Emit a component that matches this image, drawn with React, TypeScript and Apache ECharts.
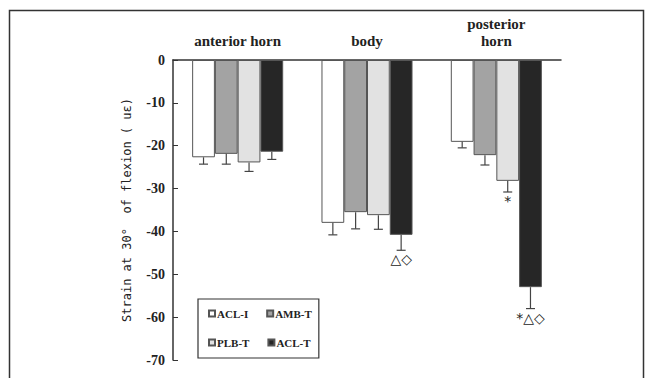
import React, { useEffect, useRef } from "react";
import * as echarts from "echarts";

const categories = ["anterior horn", "body", "posterior\nhorn"];
const seriesNames = ["ACL-I", "AMB-T", "PLB-T", "ACL-T"];
const acli = [-22.7, -38.0, -19.1];
const ambt = [-21.9, -35.5, -22.2];
const plbt = [-23.9, -36.2, -28.2];
const aclt = [-21.4, -40.8, -53.0];
const acliErr = [1.6, 2.8, 1.4];
const ambtErr = [2.4, 3.9, 2.3];
const plbtErr = [2.1, 3.3, 2.6];
const acltErr = [1.8, 3.6, 5.0];
const acliMarks = ["", "", ""];
const ambtMarks = ["", "", ""];
const plbtMarks = ["", "", "*"];
const acltMarks = ["", "△◇", "*△◇"];
const yTicks = [0, -10, -20, -30, -40, -50, -60, -70];

const fills = ["#ffffff", "#a3a3a3", "#e2e2e2", "#262626"];
const CAT_GAP = 0.296;

export default function App() {
  const ref = useRef<HTMLDivElement>(null);
  useEffect(() => {
    if (!ref.current) return;
    const chart = echarts.init(ref.current, undefined, { renderer: "svg" });
    const values = [acli, ambt, plbt, aclt];
    const errs = [acliErr, ambtErr, plbtErr, acltErr];
    const marks = [acliMarks, ambtMarks, plbtMarks, acltMarks];
    const errData: any[] = [];
    values.forEach((arr, s) => {
      arr.forEach((v, c) => {
        errData.push([c, v, errs[s][c], s, marks[s][c]]);
      });
    });
    const serif = "'Liberation Serif', serif";
    const option: any = {
      animation: false,
      grid: { left: 173, right: 88, top: 60, bottom: 18 },
      graphic: [
        {
          type: "rect",
          shape: { x: 9.5, y: 10.5, width: 634, height: 420 },
          style: { fill: "none", stroke: "#333", lineWidth: 1.5 },
          silent: true,
        },
      ],
      legend: {
        data: seriesNames,
        left: 198,
        top: 299,
        width: 110,
        orient: "horizontal",
        itemWidth: 6,
        itemHeight: 6,
        itemGap: 18,
        padding: [9, 7, 10, 10],
        borderColor: "#333",
        borderWidth: 1.2,
        icon: "rect",
        textStyle: {
          fontFamily: serif,
          fontWeight: "bold",
          fontSize: 11,
          lineHeight: 10,
          color: "#222",
          padding: [0, 0, 0, -3],
        },
      },
      xAxis: {
        type: "category",
        position: "top",
        data: categories,
        axisLine: { show: true, lineStyle: { color: "#333", width: 1.5 } },
        axisTick: { show: false },
        axisLabel: {
          interval: 0,
          margin: 11,
          fontFamily: serif,
          fontWeight: "bold",
          fontSize: 15,
          color: "#222",
          lineHeight: 17,
        },
      },
      yAxis: {
        type: "value",
        min: -70,
        max: 0,
        interval: 10,
        name: "Strain at 30°  of flexion ( uε)",
        nameLocation: "middle",
        nameGap: 40,
        nameTextStyle: {
          fontFamily: "'DejaVu Sans Mono', monospace",
          fontSize: 12,
          color: "#222",
        },
        axisLine: { show: true, lineStyle: { color: "#333", width: 1.5 } },
        axisTick: { show: true, inside: true, length: 5, lineStyle: { color: "#333" } },
        splitLine: { show: false },
        axisLabel: {
          fontFamily: serif,
          fontWeight: "bold",
          fontSize: 14,
          color: "#222",
          margin: 8,
          customValues: yTicks,
        },
      },
      series: [
        ...seriesNames.map((name, s) => ({
          name,
          type: "bar",
          data: values[s],
          barGap: "0%",
          barCategoryGap: CAT_GAP * 100 + "%",
          itemStyle: { color: fills[s], borderColor: "#555", borderWidth: 1 },
        })),
        {
          type: "custom",
          name: "err",
          data: errData,
          encode: { x: 0, y: 1 },
          z: 5,
          renderItem: (params: any, api: any) => {
            const cat = api.value(0);
            const v = api.value(1);
            const e = api.value(2);
            const s = api.value(3);
            const mark = errData[params.dataIndex][4];
            const p0 = api.coord([cat, v]);
            const p1 = api.coord([cat, v - e]);
            const band = api.size([1, 0])[0];
            const bw = (band * (1 - CAT_GAP)) / 4;
            const x = p0[0] + (s - 1.5) * bw;
            const children: any[] = [
              {
                type: "line",
                shape: { x1: x, y1: p0[1], x2: x, y2: p1[1] },
                style: { stroke: "#444", lineWidth: 1.2 },
              },
              {
                type: "line",
                shape: { x1: x - 4.5, y1: p1[1], x2: x + 4.5, y2: p1[1] },
                style: { stroke: "#444", lineWidth: 1.2 },
              },
            ];
            if (mark) {
              children.push({
                type: "text",
                x: x,
                y: p1[1] + 2,
                style: {
                  text: mark,
                  fontSize: 14,
                  fontFamily: "'DejaVu Sans', sans-serif",
                  fill: "#222",
                  align: "center",
                  verticalAlign: "top",
                },
              });
            }
            return { type: "group", children };
          },
        },
      ],
    };
    chart.setOption(option);
    return () => chart.dispose();
  }, []);
  return (
    <div
      ref={ref}
      style={{ position: "fixed", left: 0, top: 0, width: 649, height: 378, background: "#fff" }}
    />
  );
}
